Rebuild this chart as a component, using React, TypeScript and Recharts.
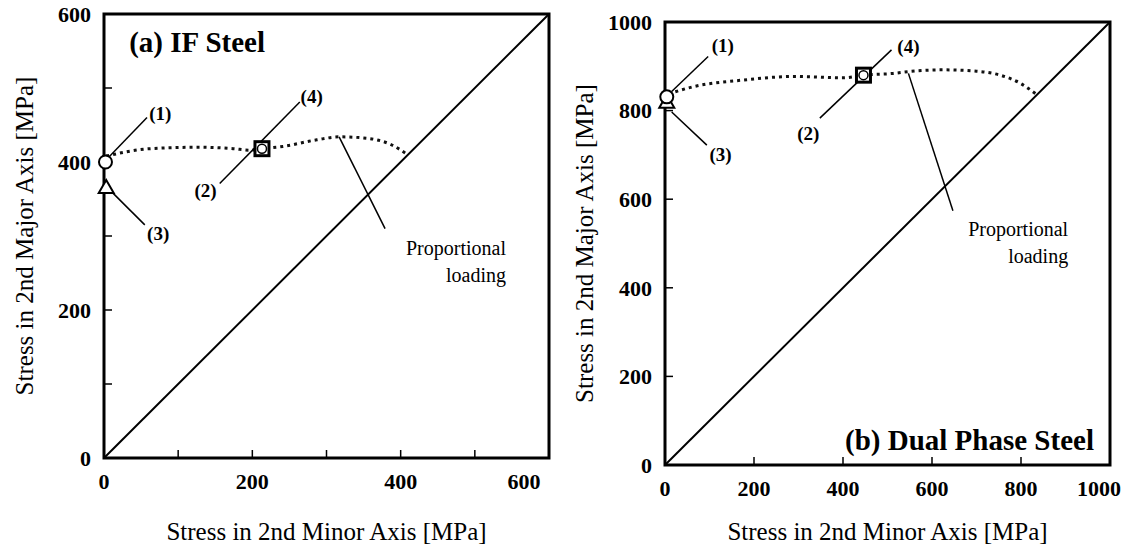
import { ComposedChart, Line, Scatter, XAxis, YAxis, ReferenceArea, ReferenceLine, ReferenceDot } from 'recharts';

const FONT = '"Liberation Serif", "Times New Roman", serif';

// (a) IF Steel — yield locus after 1st loading
const ifCurveX = [3, 62, 129, 174, 197, 213, 241, 287, 318, 355, 386, 408];
const ifCurveY = [408, 418, 420, 418, 416, 418, 421, 430, 434, 432, 424, 411];
const ifCircle = [{ x: 2, y: 400 }];
const ifTriangle = [{ x: 3, y: 365 }];
const ifSquare = [{ x: 213, y: 418 }];
const ifLeaders = [
  [5, 405, 58, 460],
  [8, 362, 55, 315],
  [264, 481, 156, 371],
  [317, 434, 379, 310],
];
const ifTags = [
  { text: '(1)', x: 76, y: 466 },
  { text: '(3)', x: 73, y: 304 },
  { text: '(4)', x: 280, y: 488 },
  { text: '(2)', x: 137, y: 362 },
];
const ifNotes = [
  { text: 'Proportional', x: 542, y: 274 },
  { text: 'loading', x: 542, y: 238 },
];

// (b) Dual Phase Steel
const dpCurveX = [8, 64, 176, 288, 401, 446, 513, 547, 625, 700, 753, 798, 833];
const dpCurveY = [838, 854, 869, 877, 874, 880, 884, 888, 892, 889, 880, 862, 838];
const dpCircle = [{ x: 4, y: 831 }];
const dpTriangle = [{ x: 4, y: 818 }];
const dpSquare = [{ x: 446, y: 880 }];
const dpLeaders = [
  [15, 843, 97, 922],
  [15, 797, 94, 722],
  [509, 937, 348, 783],
  [547, 884, 647, 574],
];
const dpTags = [
  { text: '(1)', x: 130, y: 948 },
  { text: '(3)', x: 125, y: 700 },
  { text: '(4)', x: 547, y: 944 },
  { text: '(2)', x: 322, y: 749 },
];
const dpNotes = [
  { text: 'Proportional', x: 906, y: 517 },
  { text: 'loading', x: 906, y: 456 },
];

const ifXTicks = [0, 100, 200, 300, 400, 500, 600];
const ifYTicks = [0, 100, 200, 300, 400, 500, 600];
const dpTicks = [0, 200, 400, 600, 800, 1000];

const zip = (xs: number[], ys: number[]) => xs.map((x, i) => ({ x, y: ys[i] }));

const tickText = { fontFamily: FONT, fontSize: 22, fontWeight: 'bold' as const, fill: '#000' };
const titleStyle = { fontFamily: FONT, fontSize: 25, fill: '#000' };

function BottomTick(props: any) {
  const { x, y, payload, every, max, lastDx } = props;
  if (payload.value % every !== 0) return null;
  const dx = payload.value === max ? lastDx : 0;
  return (
    <text x={x + dx} y={y} dy="0.71em" textAnchor="middle" style={tickText}>
      {payload.value}
    </text>
  );
}

function LeftTick(props: any) {
  const { x, y, payload, every } = props;
  if (payload.value % every !== 0) return null;
  return (
    <text x={x} y={y} dy="0.35em" textAnchor="end" style={tickText}>
      {payload.value}
    </text>
  );
}

const OpenCircle = (p: any) => <circle cx={p.cx} cy={p.cy} r={6.5} fill="#fff" stroke="#000" strokeWidth={2} />;
const OpenTriangle = (p: any) => (
  <path
    d={`M${p.cx},${p.cy - 8} L${p.cx + 7.5},${p.cy + 5} L${p.cx - 7.5},${p.cy + 5} Z`}
    fill="#fff"
    stroke="#000"
    strokeWidth={2}
  />
);
const OpenSquare = (p: any) => (
  <g>
    <rect x={p.cx - 7} y={p.cy - 7} width={14} height={14} fill="#fff" stroke="#000" strokeWidth={3} />
    <circle cx={p.cx} cy={p.cy} r={4.5} fill="none" stroke="#000" strokeWidth={1.5} />
  </g>
);

function Panel(props: any) {
  const { max, xTicks, yTicks, xEvery, yEvery, curve, circle, triangle, square, leaders, tags, notes, title, width, height, margin, xAxisHeight, lastDx } = props;
  const diagonal = [{ x: 0, y: 0 }, { x: max, y: max }];
  return (
    <ComposedChart width={width} height={height} margin={margin}>
      <XAxis
        type="number"
        dataKey="x"
        domain={[0, max]}
        ticks={xTicks}
        axisLine={false}
        tickSize={-8}
        tickMargin={23}
        tickLine={{ stroke: '#000', strokeWidth: 1.5 }}
        tick={<BottomTick every={xEvery} max={max} lastDx={lastDx} />}
        height={xAxisHeight}
        label={{ value: 'Stress in 2nd Minor Axis [MPa]', position: 'insideBottom', offset: 8, style: titleStyle }}
      />
      <YAxis
        type="number"
        dataKey="y"
        domain={[0, max]}
        ticks={yTicks}
        axisLine={false}
        tickSize={-8}
        tickMargin={21}
        tickLine={{ stroke: '#000', strokeWidth: 1.5 }}
        tick={<LeftTick every={yEvery} />}
        width={props.yAxisWidth}
        label={{
          value: 'Stress in 2nd Major Axis [MPa]',
          angle: -90,
          position: 'insideLeft',
          offset: 24,
          style: { ...titleStyle, textAnchor: 'middle' },
        }}
      />
      <ReferenceArea x1={0} x2={max} y1={0} y2={max} fill="none" stroke="#000" strokeWidth={3} ifOverflow="visible" />
      <Line data={diagonal} dataKey="y" stroke="#000" strokeWidth={2} dot={false} isAnimationActive={false} />
      <Line
        data={curve}
        dataKey="y"
        type="monotone"
        stroke="#111"
        strokeWidth={3}
        strokeDasharray="3 4"
        dot={false}
        isAnimationActive={false}
      />
      {leaders.map((l: number[], i: number) => (
        <ReferenceLine
          key={'l' + i}
          segment={[{ x: l[0], y: l[1] }, { x: l[2], y: l[3] }]}
          stroke="#000"
          strokeWidth={1.5}
          ifOverflow="visible"
        />
      ))}
      <Scatter data={triangle} dataKey="y" shape={OpenTriangle} isAnimationActive={false} />
      <Scatter data={circle} dataKey="y" shape={OpenCircle} isAnimationActive={false} />
      <Scatter data={square} dataKey="y" shape={OpenSquare} isAnimationActive={false} />
      {tags.map((t: any) => (
        <ReferenceDot
          key={t.text}
          x={t.x}
          y={t.y}
          r={0}
          shape={(p: any) => (
            <text x={p.cx} y={p.cy} textAnchor="middle" dominantBaseline="central" style={{ fontFamily: FONT, fontSize: 19, fontWeight: 'bold', fill: '#000' }}>
              {t.text}
            </text>
          )}
        />
      ))}
      {notes.map((n: any) => (
        <ReferenceDot
          key={n.text}
          x={n.x}
          y={n.y}
          r={0}
          shape={(p: any) => (
            <text x={p.cx} y={p.cy} textAnchor="end" style={{ fontFamily: FONT, fontSize: 20, fill: '#000' }}>
              {n.text}
            </text>
          )}
        />
      ))}
      <ReferenceDot
        x={title.x}
        y={title.y}
        r={0}
        shape={(p: any) => (
          <text x={p.cx} y={p.cy} textAnchor={title.anchor} style={{ fontFamily: FONT, fontSize: 29, fontWeight: 'bold', fill: '#000' }}>
            {title.text}
          </text>
        )}
      />
    </ComposedChart>
  );
}

export default function App() {
  return (
    <div style={{ position: 'absolute', left: 0, top: 0, width: 1125, height: 548, background: '#fff', fontFamily: FONT }}>
      <div style={{ position: 'absolute', left: 0, top: 0 }}>
        <Panel
          width={560}
          height={548}
          margin={{ top: 14, right: 11, bottom: 0, left: 0 }}
          yAxisWidth={104}
          xAxisHeight={90}
          max={600}
          xTicks={ifXTicks}
          yTicks={ifYTicks}
          xEvery={200}
          yEvery={200}
          lastDx={-24}
          curve={zip(ifCurveX, ifCurveY)}
          circle={ifCircle}
          triangle={ifTriangle}
          square={ifSquare}
          leaders={ifLeaders}
          tags={ifTags}
          notes={ifNotes}
          title={{ text: '(a) IF Steel', x: 34, y: 549, anchor: 'start' }}
        />
      </div>
      <div style={{ position: 'absolute', left: 560, top: 0 }}>
        <Panel
          width={565}
          height={548}
          margin={{ top: 22, right: 15, bottom: 0, left: 0 }}
          yAxisWidth={105}
          xAxisHeight={83}
          max={1000}
          xTicks={dpTicks}
          yTicks={dpTicks}
          xEvery={200}
          yEvery={200}
          lastDx={-10}
          curve={zip(dpCurveX, dpCurveY)}
          circle={dpCircle}
          triangle={dpTriangle}
          square={dpSquare}
          leaders={dpLeaders}
          tags={dpTags}
          notes={dpNotes}
          title={{ text: '(b) Dual Phase Steel', x: 964, y: 34, anchor: 'end' }}
        />
      </div>
    </div>
  );
}
